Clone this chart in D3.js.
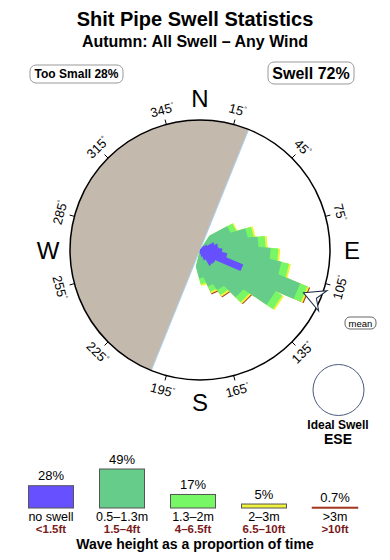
<!DOCTYPE html>
<html>
<head>
<meta charset="utf-8">
<script src="https://cdnjs.cloudflare.com/ajax/libs/d3/7.8.5/d3.min.js"></script>
<style>
body{margin:0;background:#fff;}
text{font-family:"Liberation Sans",Arial,Helvetica,sans-serif;}
</style>
</head>
<body>
<div id="chart"></div>
<script>
// petal directions (degrees, where the swell comes from)
const directions = [62, 74, 85, 95, 104, 113, 124, 135, 146, 155, 165];
// percent of time for each height band, per direction
const noSwell = [0.4, 0.6, 1.1, 1.7, 2.1, 3.5, 1.4, 0.8, 0.5, 0.3, 0.2];
const small   = [2.3, 3.2, 3.4, 3.7, 4.2, 4.6, 5.2, 3.7, 2.8, 2.5, 1.9];
const medium  = [0.45, 0.45, 0.55, 0.6, 0.6, 0.6, 0.6, 0.55, 0.45, 0.45, 0.45];
const large   = [0.1, 0.15, 0.15, 0.15, 0.15, 0.15, 0.15, 0.15, 0.15, 0.15, 0.15];
const huge    = [0, 0, 0, 0, 0, 0.08, 0, 0.08, 0.08, 0.08, 0];

const bandNames  = ['no swell', '0.5–1.3m', '1.3–2m', '2–3m', '>3m'];
const bandFeet   = ['<1.5ft', '1.5–4ft', '4–6.5ft', '6.5–10ft', '>10ft'];
const bandTotals = [28, 49, 17, 5, 0.7];
const bandColors = ['#6650ff', '#66cc8a', '#77f766', '#f2f23c', '#a33a22'];

const degreeTicks = [15, 45, 75, 105, 135, 165, 195, 225, 255, 285, 315, 345];
const cardinals = ['N', 'E', 'S', 'W'];
const cardinalAngles = [0, 90, 180, 270];

// land shadow (semicircle), and the ideal swell direction
const shadowFrom = 202, shadowTo = 382;
const idealDir = 112.5, idealName = 'ESE';

const width = 390, height = 560;
const cx = 200, cy = 250, R = 130;

let svg = d3.select('#chart').append('svg')
    .attr('width', width)
    .attr('height', height);

// titles
svg.append('text')
    .attr('x', 195).attr('y', 26)
    .attr('text-anchor', 'middle')
    .attr('font-size', 20).attr('font-weight', 'bold')
    .text('Shit Pipe Swell Statistics');
svg.append('text')
    .attr('x', 195).attr('y', 47)
    .attr('text-anchor', 'middle')
    .attr('font-size', 16).attr('font-weight', 'bold')
    .text('Autumn: All Swell – Any Wind');

// summary boxes
let boxes = [
    {label: 'Too Small ' + bandTotals[0] + '%', x: 30, y: 65, w: 93, h: 18, fs: 12},
    {label: 'Swell ' + (100 - bandTotals[0]) + '%', x: 268, y: 62, w: 86, h: 22, fs: 16}
];
let bx = svg.selectAll('g.box').data(boxes).join('g').attr('class', 'box');
bx.append('rect')
    .attr('x', d => d.x).attr('y', d => d.y)
    .attr('width', d => d.w).attr('height', d => d.h)
    .attr('rx', 6)
    .attr('fill', 'white').attr('stroke', '#999').attr('stroke-width', 1);
bx.append('text')
    .attr('x', d => d.x + d.w / 2).attr('y', d => d.y + d.h / 2 + d.fs * 0.36)
    .attr('text-anchor', 'middle')
    .attr('font-size', d => d.fs).attr('font-weight', 'bold')
    .text(d => d.label);

let g = svg.append('g').attr('transform', 'translate(' + cx + ',' + cy + ')');
const rad = d => d * Math.PI / 180;

// land shadow
g.append('path')
    .attr('d', d3.arc()({innerRadius: 0, outerRadius: R, startAngle: rad(shadowFrom), endAngle: rad(shadowTo)}))
    .attr('fill', '#c4b9ad');
g.append('line')
    .attr('x1', R * Math.sin(rad(shadowFrom))).attr('y1', -R * Math.cos(rad(shadowFrom)))
    .attr('x2', R * Math.sin(rad(shadowTo))).attr('y2', -R * Math.cos(rad(shadowTo)))
    .attr('stroke', '#a9d2f2').attr('stroke-width', 1);

// rose
let r = d3.scaleLinear().domain([0, 10]).range([0, R]);
let bands = [noSwell, small, medium, large, huge];
let cum = directions.map((d, i) => {
    let s = 0;
    return bands.map(b => (s += b[i]));
});

function petal(len, w, t) {
    let tt = Math.min(t, len), hw = w / 2 * tt / t;
    return 'M0,0L' + tt + ',' + (-hw) + 'L' + len + ',' + (-hw) + 'L' + len + ',' + hw + 'L' + tt + ',' + hw + 'Z';
}
function arrow(len) {
    if (len <= 17) return 'M0,0L' + len + ',-' + (8 * len / 17) + 'L' + len + ',' + (8 * len / 17) + 'Z';
    return 'M0,0L17,-8L17,-3.5L' + len + ',-3.5L' + len + ',3.5L17,3.5L17,8Z';
}

// outer bands first, so inner ones lie on top
for (let k = 4; k >= 1; k--) {
    g.append('g').selectAll('path')
        .data(directions.map((d, i) => ({dir: d, len: r(cum[i][k]), v: bands[k][i]})).filter(d => d.v > 0))
        .join('path')
        .attr('transform', d => 'rotate(' + (d.dir - 90) + ')')
        .attr('d', d => petal(d.len, 16.5, 15))
        .attr('fill', bandColors[k]);
}
g.append('g').selectAll('path')
    .data(directions.map((d, i) => ({dir: d, len: r(cum[i][0])})))
    .join('path')
    .attr('transform', d => 'rotate(' + (d.dir - 90) + ')')
    .attr('d', d => arrow(d.len))
    .attr('fill', bandColors[0]);

// compass ring
g.append('circle').attr('r', R)
    .attr('fill', 'none').attr('stroke', 'black').attr('stroke-width', 1.5);

g.selectAll('line.tick').data(degreeTicks).join('line')
    .attr('class', 'tick')
    .attr('x1', d => R * Math.sin(rad(d))).attr('y1', d => -R * Math.cos(rad(d)))
    .attr('x2', d => (R + 5) * Math.sin(rad(d))).attr('y2', d => -(R + 5) * Math.cos(rad(d)))
    .attr('stroke', 'black').attr('stroke-width', 1);

let lab = g.selectAll('text.deg').data(degreeTicks).join('text')
    .attr('class', 'deg')
    .attr('transform', d => 'translate(' + (145 * Math.sin(rad(d))) + ',' + (-145 * Math.cos(rad(d))) + ') rotate(' + (((d + 90) % 180) - 90) + ')')
    .attr('text-anchor', 'middle')
    .attr('dy', '0.35em')
    .attr('font-size', 13);
lab.append('tspan').text(d => d);
lab.append('tspan').attr('font-size', 7).attr('dy', '-0.7em').text('°');

g.selectAll('text.card').data(cardinals).join('text')
    .attr('class', 'card')
    .attr('x', (d, i) => 152 * Math.sin(rad(cardinalAngles[i])))
    .attr('y', (d, i) => -152 * Math.cos(rad(cardinalAngles[i])))
    .attr('dy', '0.36em')
    .attr('text-anchor', 'middle')
    .attr('font-size', 24)
    .text(d => d);

// ideal swell direction marker
g.append('path')
    .attr('transform', 'rotate(' + (idealDir - 90) + ')')
    .attr('d', 'M112,0L133,-11L126,0L133,11Z')
    .attr('fill', 'white').attr('stroke', '#1a2a4a').attr('stroke-width', 1);

svg.append('rect')
    .attr('x', 345).attr('y', 317).attr('width', 31).attr('height', 12).attr('rx', 5)
    .attr('fill', 'white').attr('stroke', '#666');
svg.append('text')
    .attr('x', 360.5).attr('y', 326.5).attr('text-anchor', 'middle')
    .attr('font-size', 9.5).text('mean');

// ideal swell
svg.append('circle')
    .attr('cx', 338.5).attr('cy', 390).attr('r', 25.5)
    .attr('fill', 'white').attr('stroke', '#4a5a7a').attr('stroke-width', 1);
svg.append('text')
    .attr('x', 338).attr('y', 429).attr('text-anchor', 'middle')
    .attr('font-size', 12).attr('font-weight', 'bold')
    .text('Ideal Swell');
svg.append('text')
    .attr('x', 338).attr('y', 444).attr('text-anchor', 'middle')
    .attr('font-size', 14).attr('font-weight', 'bold')
    .text(idealName);

// legend
let lx = d3.scalePoint().domain(bandNames).range([51, 335]);
let lh = d3.scaleLinear().domain([0, 49]).range([0, 39]);
const base = 508, bw = 45;

let leg = svg.selectAll('g.leg').data(bandNames).join('g').attr('class', 'leg');
leg.append('rect')
    .attr('x', d => lx(d) - bw / 2)
    .attr('y', (d, i) => base - lh(bandTotals[i]))
    .attr('width', bw)
    .attr('height', (d, i) => lh(bandTotals[i]))
    .attr('fill', (d, i) => bandColors[i])
    .attr('stroke', (d, i) => i == 4 ? bandColors[4] : '#555')
    .attr('stroke-width', (d, i) => i == 4 ? 1.5 : 1);
leg.append('text')
    .attr('x', d => lx(d))
    .attr('y', (d, i) => base - lh(bandTotals[i]) - 5.5)
    .attr('text-anchor', 'middle')
    .attr('font-size', 13)
    .text((d, i) => bandTotals[i] + '%');
leg.append('text')
    .attr('x', d => lx(d)).attr('y', 521)
    .attr('text-anchor', 'middle')
    .attr('font-size', 12.5)
    .text(d => d);
leg.append('text')
    .attr('x', d => lx(d)).attr('y', 533)
    .attr('text-anchor', 'middle')
    .attr('font-size', 11.5).attr('font-weight', 'bold')
    .attr('fill', '#7a1a1a')
    .text((d, i) => bandFeet[i]);

svg.append('text')
    .attr('x', 195).attr('y', 549).attr('text-anchor', 'middle')
    .attr('font-size', 14).attr('font-weight', 'bold')
    .text('Wave height as a proportion of time');
</script>
</body>
</html>
